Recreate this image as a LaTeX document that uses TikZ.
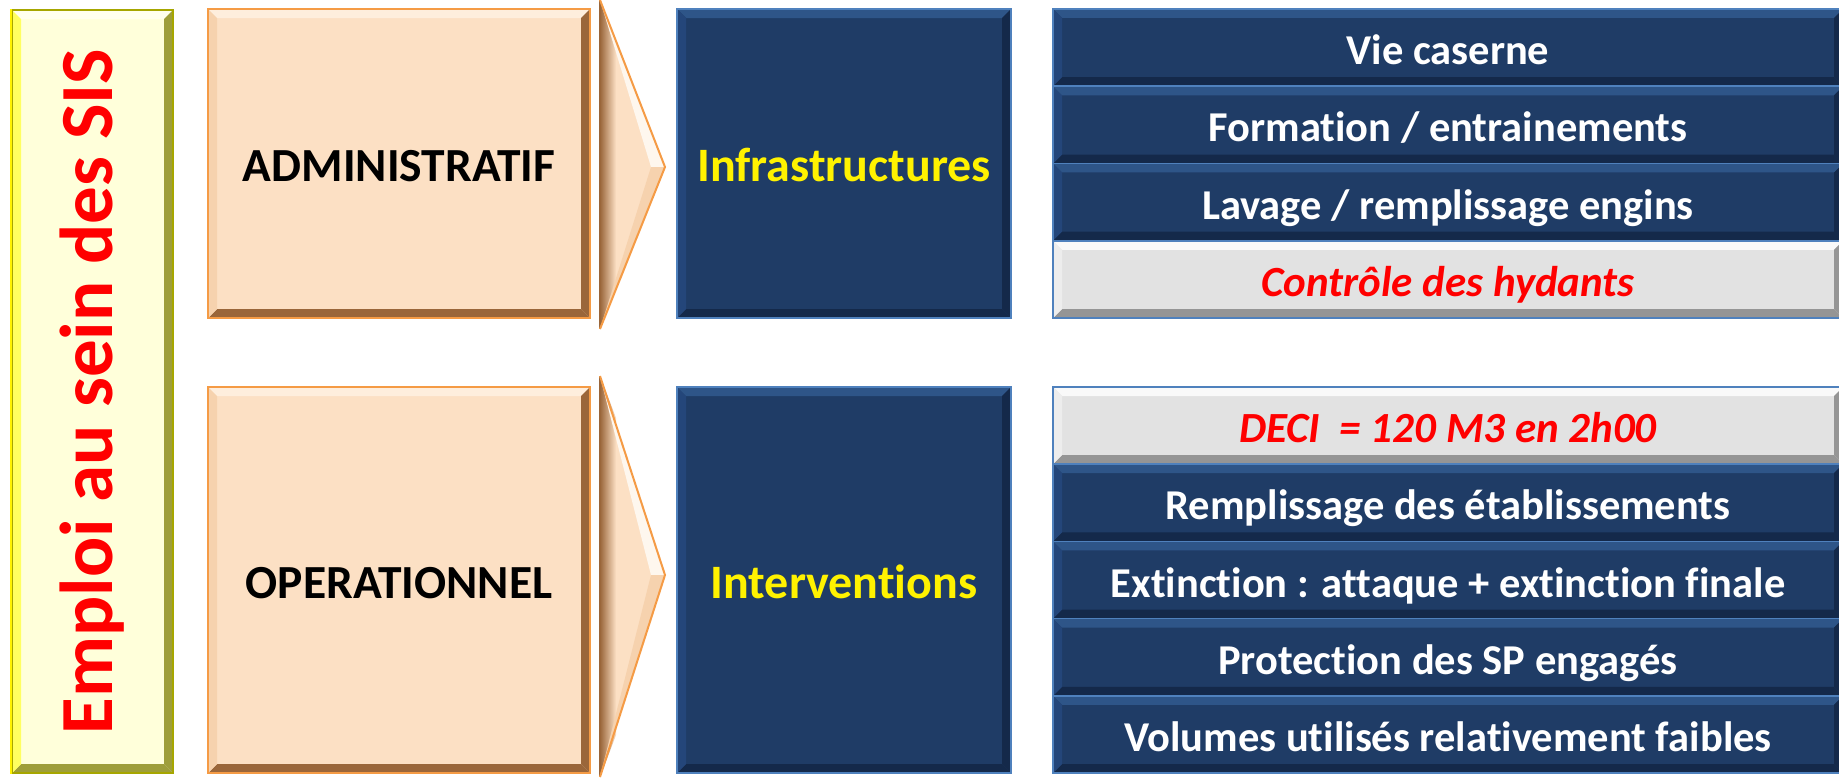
\documentclass[tikz,border=0pt]{standalone}
\usepackage{fontspec}
\setmainfont{Carlito}[Ligatures=NoCommon]
\usetikzlibrary{calc}
\definecolor{navy}{HTML}{1F3C66}
\definecolor{navyL}{HTML}{4F81BD}
\definecolor{navyT}{HTML}{2E5588}
\definecolor{navyS}{HTML}{24467A}
\definecolor{navyD}{HTML}{14294A}
\definecolor{peach}{HTML}{FCE0C4}
\definecolor{peachT}{HTML}{FEEEDD}
\definecolor{peachS}{HTML}{F6D2AE}
\definecolor{peachD}{HTML}{9A663A}
\definecolor{orangeL}{HTML}{F59B45}
\definecolor{ylw}{HTML}{FFFFDA}
\definecolor{ylwT}{HTML}{FFFFEE}
\definecolor{ylwS}{HTML}{FFFF60}
\definecolor{ylwD}{HTML}{9E9E3A}
\definecolor{olive}{HTML}{A6A600}
\definecolor{grey}{HTML}{E2E2E2}
\definecolor{greyT}{HTML}{F9F9F9}
\definecolor{greyS}{HTML}{EDEDED}
\definecolor{greyD}{HTML}{959595}
\newcommand{\mychev}[3]{%
  \fill[peach] (600,#1) -- (665,#2) -- (600,#3) -- cycle;
  \shade[left color=peachD, right color=peach] (600,#1) -- (616,#1+42) -- (616,#3-42) -- (600,#3) -- cycle;
  \fill[peachT!50!white] (600,#1) -- (665,#2) -- (651,#2) -- cycle;
  \fill[peachS] (665,#2) -- (651,#2) -- (600,#3) -- cycle;
  \draw[peachD, line width=1.5pt] (600,#1) -- (600,#3);
  \draw[orangeL, line width=2pt, line join=miter] (600,#1) -- (665,#2) -- (600,#3);
}
\begin{document}
\begin{tikzpicture}[x=1pt,y=-1pt,
  bevel/.style n args={4}{path picture={
    \coordinate (pA) at (path picture bounding box.north west);
    \coordinate (pB) at (path picture bounding box.north east);
    \coordinate (pC) at (path picture bounding box.south east);
    \coordinate (pD) at (path picture bounding box.south west);
    \fill[#1] (pA) -- (pB) -- ($(pB)+(-9pt,-9pt)$) -- ($(pA)+(9pt,-9pt)$) -- cycle;
    \fill[#3] (pB) -- (pC) -- ($(pC)+(-9pt,9pt)$) -- ($(pB)+(-9pt,-9pt)$) -- cycle;
    \fill[#4] (pC) -- (pD) -- ($(pD)+(9pt,9pt)$) -- ($(pC)+(-9pt,9pt)$) -- cycle;
    \fill[#2] (pD) -- (pA) -- ($(pA)+(9pt,-9pt)$) -- ($(pD)+(9pt,9pt)$) -- cycle;
  }},
  navybox/.style={draw=navyL, line width=1.5pt, fill=navy, bevel={navyT}{navyS}{navyD}{navyD},
    text=white, inner sep=0pt, text height=38pt, text depth=4pt, font=\bfseries\fontsize{42.5}{46}\selectfont},
  greybox/.style={draw=navyL, line width=1.5pt, fill=grey, bevel={greyT}{greyS}{greyD}{greyD},
    text=red, inner sep=0pt, text height=38pt, text depth=4pt, font=\bfseries\itshape\fontsize{43}{48}\selectfont},
  peachbox/.style={draw=orangeL, line width=1.5pt, fill=peach, bevel={peachT}{peachS}{peachD}{peachD},
    text=black, inner sep=0pt, text height=40pt, text depth=4pt, font=\bfseries\fontsize{47.5}{50}\selectfont},
  sidebox/.style={draw=olive, line width=1.5pt, fill=ylw, bevel={ylwT}{ylwS}{ylwD}{ylwD}, inner sep=0pt},
  mid/.style={text=yellow, text height=40pt, text depth=4pt, font=\bfseries\fontsize{48}{52}\selectfont},
  rowA/.style={minimum width=790, minimum height=77.25},
  rowB/.style={minimum width=790, minimum height=77.2},
]
\useasboundingbox (0,0) rectangle (1839,780);
\fill[white] (0,0) rectangle (1839,780);

% side
\node[sidebox, minimum width=161, minimum height=763] (side) at (92.5,391.5) {};
\draw[yellow, line width=2pt] (side.north west) -- (side.south west);
\node[rotate=90, text=red, inner sep=0pt, font=\bfseries\fontsize{75}{80}\selectfont] (sidet) at (side.center) {Emploi au sein des SIS};

% chevrons
\mychev{0}{167}{329}
\mychev{376}{575}{777}

% category boxes
\node[peachbox, minimum width=382, minimum height=309] (adm) at (399,163.5) {ADMINISTRATIF};
\node[peachbox, minimum width=382, minimum height=386] (ope) at (399,580) {OPERATIONNEL};

\node[navybox, mid, minimum width=334, minimum height=309] (infra) at (844,163.5) {Infrastructures};
\node[navybox, mid, minimum width=334, minimum height=386] (interv) at (844,580) {Interventions};

% upper stack (9 .. 318)
\node[navybox, rowA] (r1) at (1448,47.6) {Vie caserne};
\node[navybox, rowA] (r2) at (1448,124.9) {Formation / entrainements};
\node[navybox, rowA] (r3) at (1448,202.1) {Lavage / remplissage engins};
\node[greybox, rowA] (r4) at (1448,279.4) {Contrôle des hydants};

% lower stack (387 .. 773)
\node[greybox, rowB] (s1) at (1448,425.6) {DECI\ \ = 120 M3 en 2h00};
\node[navybox, rowB] (s2) at (1448,502.8) {Remplissage des établissements};
\node[navybox, rowB] (s3) at (1448,580) {Extinction : attaque + extinction finale};
\node[navybox, rowB] (s4) at (1448,657.2) {Protection des SP engagés};
\node[navybox, rowB] (s5) at (1448,734.4) {Volumes utilisés relativement faibles};
\end{tikzpicture}
\end{document}
